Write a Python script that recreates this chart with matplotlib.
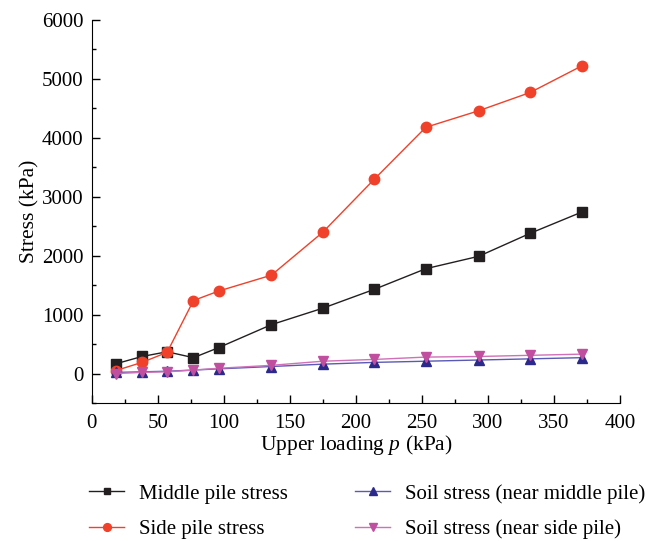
import matplotlib
matplotlib.use("Agg")
import matplotlib.pyplot as plt
from matplotlib.ticker import MultipleLocator

plt.rcParams['font.family'] = ['Liberation Serif', 'DejaVu Serif']
plt.rcParams['mathtext.fontset'] = 'custom'
plt.rcParams['mathtext.it'] = 'Liberation Serif:italic'
plt.rcParams['mathtext.rm'] = 'Liberation Serif'

# upper loading p (kPa)
load = [18, 38, 57, 77, 96, 136, 175, 214, 253, 293, 332, 371]

# stresses (kPa)
middle_pile = [165, 290, 370, 270, 440, 830, 1110, 1430, 1780, 1990, 2380, 2740]
side_pile = [50, 190, 360, 1240, 1400, 1670, 2400, 3300, 4180, 4460, 4770, 5220]
soil_middle = [20, 30, 40, 60, 80, 120, 160, 190, 210, 230, 250, 270]
soil_side = [0, 20, 30, 60, 90, 140, 210, 240, 280, 290, 310, 330]

fig = plt.figure(figsize=(6.56, 5.41), dpi=100)
ax = fig.add_axes([0.140, 0.255, 0.805, 0.708])

h1, = ax.plot(load, middle_pile, color='#231f20', marker='s', ms=6.5, lw=1,
              mec='#231f20', label='Middle pile stress')
h2, = ax.plot(load, side_pile, color='#f0412a', marker='o', ms=7.5, lw=1,
              mec='#f0412a', label='Side pile stress')
h3, = ax.plot(load, soil_middle, color='#5a5ab4', marker='^', ms=7, lw=1,
              mfc='#2b2a8c', mec='#2b2a8c', label='Soil stress (near middle pile)')
h4, = ax.plot(load, soil_side, color='#d070b8', marker='v', ms=7.5, lw=1,
              mfc='#c04f9f', mec='#c04f9f', label='Soil stress (near side pile)')

ax.set_xlim(0, 400)
ax.set_ylim(-500, 6000)
ax.xaxis.set_major_locator(MultipleLocator(50))
ax.xaxis.set_minor_locator(MultipleLocator(25))
ax.yaxis.set_major_locator(MultipleLocator(1000))
ax.yaxis.set_minor_locator(MultipleLocator(500))
ax.tick_params(which='both', direction='in', labelsize=15, width=1)
ax.tick_params(which='major', length=6)
ax.tick_params(which='minor', length=3)
ax.tick_params(axis='x', pad=8)
ax.tick_params(axis='y', pad=6)
ax.spines['top'].set_visible(False)
ax.spines['right'].set_visible(False)

ax.set_xlabel('Upper loading $p$ (kPa)', fontsize=15.5, labelpad=0)
ax.set_ylabel('Stress (kPa)', fontsize=15.5, labelpad=2)

fig.legend(handles=[h1, h2, h3, h4], ncol=2, frameon=False, fontsize=15,
           loc='center', bbox_to_anchor=(0.560, 0.0545), columnspacing=3.2,
           handlelength=1.7, handletextpad=0.72, labelspacing=0.75, markerscale=0.75)

fig.savefig('out.png', dpi=100)
